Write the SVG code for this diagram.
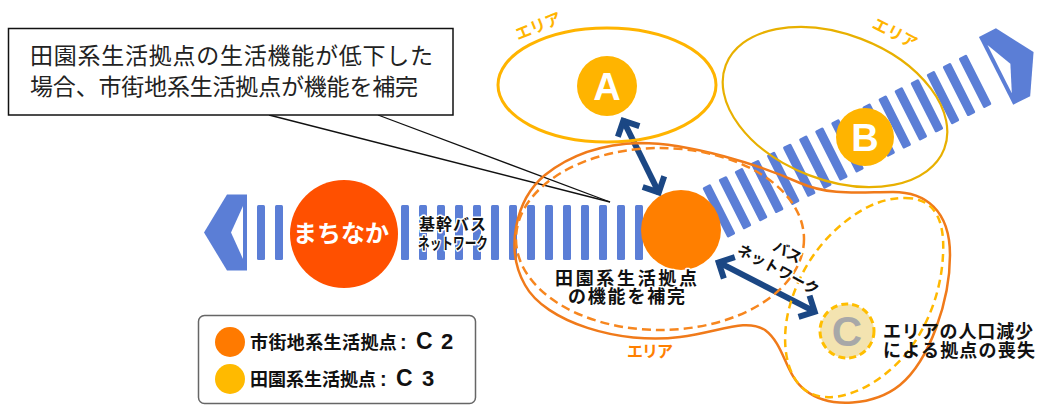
<svg xmlns="http://www.w3.org/2000/svg" width="1040" height="405" viewBox="0 0 1040 405">
<style>
.jp{font-family:'Liberation Sans','Noto Sans CJK JP',sans-serif}
.b{font-weight:bold}
.band{fill:#5B7ED6}
.notch{fill:#fff}
.halo{stroke:#fff;stroke-width:3;paint-order:stroke;stroke-linejoin:round}
.arrow{fill:none;stroke:#1B4784;stroke-width:6;stroke-linejoin:miter}
.area-o{fill:none;stroke:#F07A1A;stroke-width:2.5}
.area-od{fill:none;stroke:#F7861E;stroke-width:2.5;stroke-dasharray:9 5}
.area-yd{fill:none;stroke:#FFB800;stroke-width:2.5;stroke-dasharray:8 5}
.area-y{fill:none;stroke:#FFB400;stroke-width:3}
.area-y2{fill:none;stroke:#E8B000;stroke-width:2.2}
</style>
<rect width="1040" height="405" fill="#fff"/>

<g id="connectors">
  <g id="trunk-bus-h">
    <polygon class="band" points="204,232.5 227,194.5 247,194.5 247,270.5 227,270.5"/>
    <polygon class="notch" points="243,206 231,232.5 243,259"/>
    <rect class="band" x="257" y="205" width="8" height="55" rx="1.5"/>
    <rect class="band" x="275" y="205" width="8" height="55" rx="1.5"/>
    <rect class="band" x="401" y="205" width="8" height="55" rx="1.5"/>
    <rect class="band" x="419" y="205" width="8" height="55" rx="1.5"/>
    <rect class="band" x="437" y="205" width="8" height="55" rx="1.5"/>
    <rect class="band" x="455" y="205" width="8" height="55" rx="1.5"/>
    <rect class="band" x="473" y="205" width="8" height="55" rx="1.5"/>
    <rect class="band" x="491" y="205" width="8" height="55" rx="1.5"/>
    <rect class="band" x="509" y="205" width="8" height="55" rx="1.5"/>
    <rect class="band" x="527" y="205" width="8" height="55" rx="1.5"/>
    <rect class="band" x="545" y="205" width="8" height="55" rx="1.5"/>
    <rect class="band" x="563" y="205" width="8" height="55" rx="1.5"/>
    <rect class="band" x="581" y="205" width="8" height="55" rx="1.5"/>
    <rect class="band" x="599" y="205" width="8" height="55" rx="1.5"/>
    <rect class="band" x="617" y="205" width="8" height="55" rx="1.5"/>
    <rect class="band" x="635" y="205" width="8" height="55" rx="1.5"/>
  </g>
  <g id="trunk-bus-diag" transform="translate(681,230) rotate(-26.8)">
    <rect class="band" x="38" y="-28" width="9" height="56" rx="1.5"/>
    <rect class="band" x="56" y="-28" width="9" height="56" rx="1.5"/>
    <rect class="band" x="74" y="-28" width="9" height="56" rx="1.5"/>
    <rect class="band" x="92" y="-28" width="9" height="56" rx="1.5"/>
    <rect class="band" x="110" y="-28" width="9" height="56" rx="1.5"/>
    <rect class="band" x="128" y="-28" width="9" height="56" rx="1.5"/>
    <rect class="band" x="146" y="-28" width="9" height="56" rx="1.5"/>
    <rect class="band" x="164" y="-28" width="9" height="56" rx="1.5"/>
    <rect class="band" x="182" y="-28" width="9" height="56" rx="1.5"/>
    <rect class="band" x="200" y="-28" width="9" height="56" rx="1.5"/>
    <rect class="band" x="217" y="-28" width="9" height="56" rx="1.5"/>
    <rect class="band" x="235" y="-28" width="9" height="56" rx="1.5"/>
    <rect class="band" x="253" y="-28" width="9" height="56" rx="1.5"/>
    <rect class="band" x="271" y="-28" width="9" height="56" rx="1.5"/>
    <rect class="band" x="289" y="-28" width="9" height="56" rx="1.5"/>
    <rect class="band" x="307" y="-28" width="9" height="56" rx="1.5"/>
    <rect class="band" x="325" y="-28" width="9" height="56" rx="1.5"/>
    <polygon class="band" points="353,-38 372,-38 395,0 372,38 353,38"/>
    <polygon class="notch" points="357,-27 369,0 357,27"/>
  </g>
  <g id="callout-pointer" stroke="#111" stroke-width="1.3" fill="none">
    <line x1="269" y1="115" x2="610" y2="202"/>
    <line x1="378" y1="115" x2="610" y2="202"/>
  </g>
  <g id="arrow-a" transform="translate(622,118) rotate(63.7)">
    <line class="arrow" x1="2" y1="0" x2="84" y2="0"/>
    <polyline class="arrow" points="15,-12 3,0 15,12"/>
    <polyline class="arrow" points="71,-12 83,0 71,12"/>
  </g>
  <g id="arrow-c" transform="translate(716,261) rotate(27.2)">
    <line class="arrow" x1="2" y1="0" x2="112" y2="0"/>
    <polyline class="arrow" points="15,-12 3,0 15,12"/>
    <polyline class="arrow" points="99,-12 111,0 99,12"/>
  </g>
</g>

<g id="callout">
  <rect x="8.5" y="28.5" width="444.5" height="86.5" fill="#fff" stroke="#111" stroke-width="1.5"/>
  <text class="jp" x="30" y="64" font-size="23" fill="#222" textLength="403">田園系生活拠点の生活機能が低下した</text>
  <text class="jp" x="30" y="95" font-size="23" fill="#222" textLength="388">場合、市街地系生活拠点が機能を補完</text>
</g>

<g id="area-a">
  <ellipse class="area-y" cx="607" cy="85" rx="109" ry="57"/>
  <text class="jp b" transform="translate(538,26) rotate(-22)" x="0" y="6" font-size="16" fill="#FFB400" text-anchor="middle">エリア</text>
</g>
<g id="area-b">
  <ellipse class="area-y2" cx="835" cy="107" rx="117" ry="73" transform="rotate(21 835 107)"/>
  <text class="jp b" transform="translate(895,33) rotate(27)" x="0" y="6" font-size="16" fill="#FFB400" text-anchor="middle">エリア</text>
</g>
<g id="area-c2">
  <path class="area-o" d="M640,143 C690,143 760,165 800,183 C830,196 860,192 893,192 C925,192 950,210 950,255 C950,300 930,360 900,385 C875,405 830,410 805,390 C785,375 785,345 765,330 C745,318 720,332 680,337 C620,345 545,322 525,285 C505,250 515,200 545,175 C570,155 600,144 640,143 Z"/>
  <ellipse class="area-od" cx="660" cy="239" rx="144" ry="91"/>
  <text class="jp b" x="627" y="357" font-size="16" fill="#FF8000" textLength="46">エリア</text>
</g>
<g id="area-c">
  <path class="area-yd" d="M905,198 C935,198 945,220 943,255 C941,300 920,345 890,370 C865,392 830,405 808,392 C785,378 780,340 790,305 C800,270 820,240 850,218 C868,205 885,198 905,198 Z"/>
</g>

<g id="machinaka">
  <circle cx="344" cy="234" r="54" fill="#FF5000"/>
  <text class="jp b" x="341" y="242" font-size="24" fill="#fff" text-anchor="middle">まちなか</text>
</g>
<g id="trunk-label">
  <text class="jp b halo" x="419" y="230" font-size="16" fill="#111" textLength="67">基幹バス</text>
  <text class="jp b halo" x="418" y="249" font-size="16" fill="#111" textLength="70" lengthAdjust="spacingAndGlyphs">ネットワーク</text>
</g>
<g id="hub-c2">
  <circle cx="681" cy="230" r="40" fill="#FF7F00"/>
  <text class="jp b halo" x="555" y="285" font-size="18" fill="#111" textLength="142">田園系生活拠点</text>
  <text class="jp b halo" x="568" y="303" font-size="18" fill="#111" textLength="117">の機能を補完</text>
</g>
<g id="node-a">
  <circle cx="607" cy="86" r="30" fill="#FFB400"/>
  <text class="jp b" x="607" y="100" font-size="38" fill="#fff" text-anchor="middle">A</text>
</g>
<g id="node-b">
  <circle cx="865" cy="137" r="29" fill="#FFB400"/>
  <text class="jp b" x="865" y="151" font-size="38" fill="#fff" text-anchor="middle">B</text>
</g>
<g id="node-c">
  <circle cx="847" cy="331" r="27" fill="#F3E3B0" stroke="#FFBE00" stroke-width="3" stroke-dasharray="7 4"/>
  <text class="jp b" x="847" y="346" font-size="42" fill="#A8A8A8" text-anchor="middle">C</text>
  <text class="jp b" x="883" y="338" font-size="18" fill="#111" textLength="150">エリアの人口減少</text>
  <text class="jp b" x="883" y="357" font-size="18" fill="#111" textLength="152">による拠点の喪失</text>
</g>
<g id="bus-label" transform="translate(778,270) rotate(28)">
  <text class="jp b halo" x="0" y="-15" font-size="15" fill="#111" text-anchor="middle">バス</text>
  <text class="jp b halo" x="0" y="5" font-size="15" fill="#111" text-anchor="middle">ネットワーク</text>
</g>

<g id="legend">
  <rect x="198.5" y="315.5" width="277" height="88" rx="6" fill="#fff" stroke="#666" stroke-width="1.5"/>
  <circle cx="230" cy="342" r="15" fill="#FF7A00"/>
  <circle cx="230" cy="379" r="15" fill="#FFBA00"/>
  <text class="jp b" x="250" y="349" font-size="18" fill="#111"><tspan letter-spacing="0.4">市街地系生活拠点</tspan><tspan x="400" font-size="20">:</tspan><tspan x="416" font-size="23">C</tspan><tspan x="441" font-size="22">2</tspan></text>
  <text class="jp b" x="250" y="386" font-size="18" fill="#111"><tspan>田園系生活拠点</tspan><tspan x="380" font-size="20">:</tspan><tspan x="396" font-size="23">C</tspan><tspan x="422" font-size="22">3</tspan></text>
</g>
</svg>
